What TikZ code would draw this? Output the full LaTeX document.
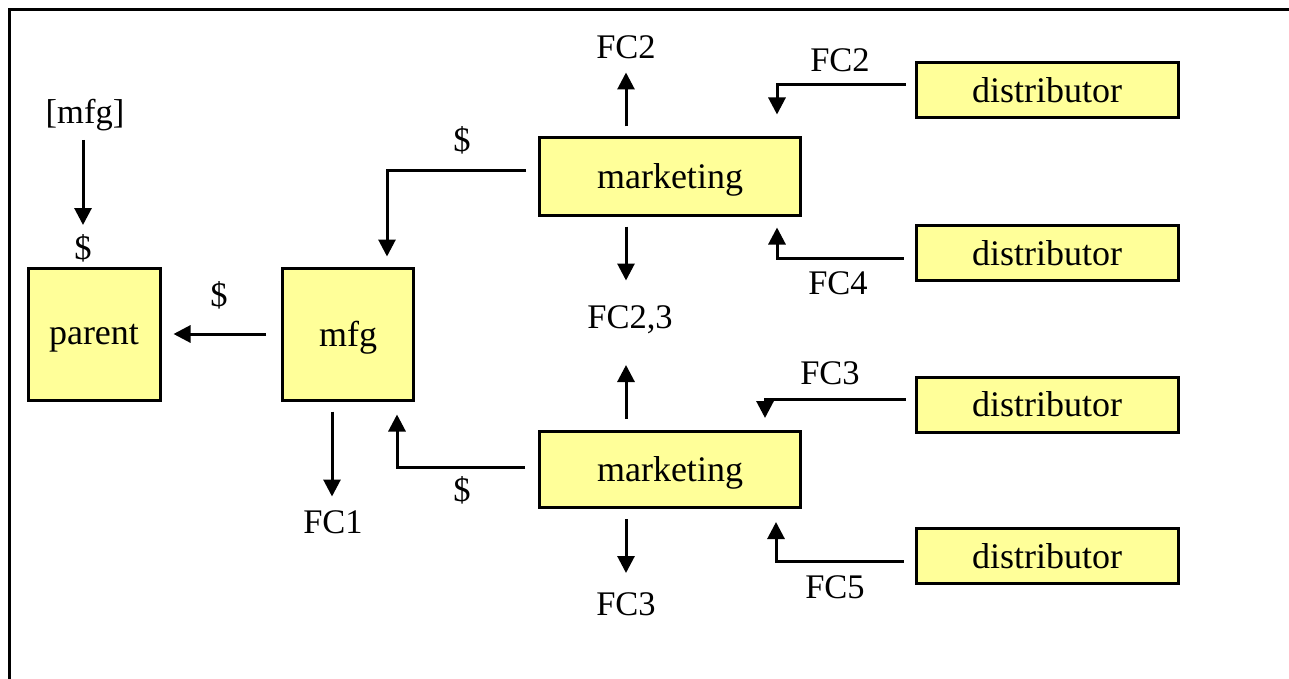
\documentclass[tikz,border=0pt]{standalone}
\usepackage{fontspec}
\setmainfont{Liberation Serif}
\usetikzlibrary{arrows.meta,calc}
\definecolor{boxfill}{HTML}{FFFF99}
\tikzset{
  box/.style={draw=black, line width=3pt, fill=boxfill, inner sep=0pt, text depth=0pt, font=\fontsize{36}{40}\selectfont},
  lbl/.style={inner sep=0pt, font=\fontsize{34.5}{38}\selectfont},
  arr/.style={line width=3pt, -{Triangle[length=17pt,width=17pt]}},
}
\begin{document}
\begin{tikzpicture}[x=1pt,y=-1pt]
\useasboundingbox (0,0) rectangle (1289,679);
% frame (only top and left edges visible)
\draw[line width=3pt] (9,679) -- (9,10) -- (1289,10);
% boxes
\node[box, minimum width=132pt, minimum height=132pt] (parent) at (94,334) {parent};
\node[box, minimum width=131pt, minimum height=132pt] (mfg) at (348,334) {mfg};
\node[box, minimum width=261pt, minimum height=77pt] (mtop) at (670,176.5) {marketing};
\node[box, minimum width=261pt, minimum height=76pt] (mbot) at (670,469.5) {marketing};
\node[box, minimum width=262pt, minimum height=55pt] (d1) at (1047,90.5) {distributor};
\node[box, minimum width=262pt, minimum height=55pt] (d2) at (1047,253) {distributor};
\node[box, minimum width=262pt, minimum height=55pt] (d3) at (1047,404.5) {distributor};
\node[box, minimum width=262pt, minimum height=55pt] (d4) at (1047,556) {distributor};
% labels
\node[lbl] (lmfg) at (85,115) {[mfg]};
\node[lbl] (ld1) at (83,248) {\$};
\node[lbl] (ld2) at (219,295) {\$};
\node[lbl] (ld3) at (462,140) {\$};
\node[lbl] (ld4) at (462,490) {\$};
\node[lbl] (lfc2a) at (626,47) {FC2};
\node[lbl] (lfc2b) at (840,60) {FC2};
\node[lbl] (lfc4) at (838,283) {FC4};
\node[lbl] (lfc23) at (630,320) {FC2,3};
\node[lbl] (lfc1) at (333,522) {FC1};
\node[lbl] (lfc3a) at (830,373) {FC3};
\node[lbl] (lfc3b) at (626,604) {FC3};
\node[lbl] (lfc5) at (835,587) {FC5};
% connectors
\draw[arr] ($(lmfg)+(-2,25)$) -- ($(ld1)+(0,-23)$);
\draw[arr] ($(mfg.west)+(-15,0)$) -- ($(parent.east)+(12,0)$);
\draw[arr] ($(mtop.west)+(-12,-5.5)$) -| ($(mfg.north)+(39,-10)$);
\draw[arr] ($(mtop.north)+(-44,-10)$) -- ($(mtop.north)+(-44,-64)$);
\draw[arr] ($(mtop.south)+(-44,10)$) -- ($(mtop.south)+(-44,64)$);
\draw[arr] ($(mbot.north)+(-44,-11)$) -- ($(mbot.north)+(-44,-65)$);
\draw[arr] ($(mbot.south)+(-44,10)$) -- ($(mbot.south)+(-44,64)$);
\draw[arr] ($(mfg.south)+(-16,10)$) -- ($(mfg.south)+(-16,95)$);
\draw[arr] ($(mbot.west)+(-13,-2.5)$) -| ($(mfg.south)+(49,13)$);
\draw[arr] ($(d1.west)+(-9,-5.5)$) -| ($(mtop.north)+(107,-22)$);
\draw[arr] ($(d2.west)+(-11,5)$) -| ($(mtop.south)+(107,11)$);
\draw[arr] ($(d3.west)+(-9,-5.5)$) -| ($(mbot.north)+(95,-12)$);
\draw[arr] ($(d4.west)+(-11,5)$) -| ($(mbot.south)+(106,13)$);
\end{tikzpicture}
\end{document}
